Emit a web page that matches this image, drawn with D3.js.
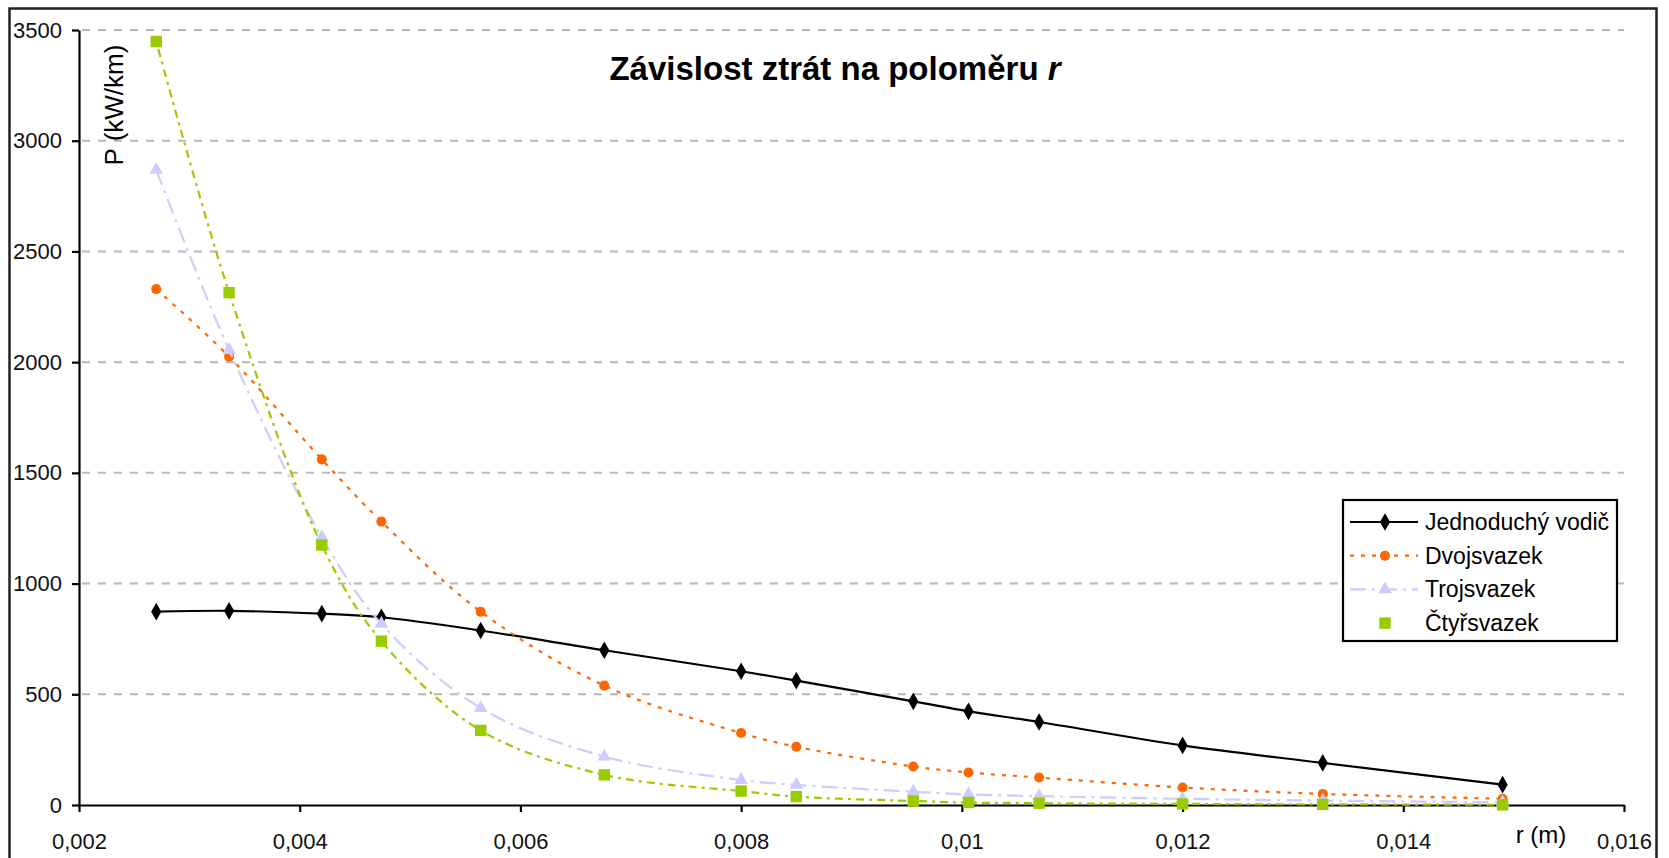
<!DOCTYPE html>
<html>
<head>
<meta charset="utf-8">
<script src="https://cdn.jsdelivr.net/npm/d3@7"></script>
<style>
  body { margin: 0; background: #fff; }
  svg { display: block; font-family: "Liberation Sans", Arial, sans-serif; }
</style>
</head>
<body>
<div id="chart"></div>
<script>
// polomer vodice r (m)
var radius = [0.0027, 0.00336, 0.0042, 0.00474, 0.00564, 0.00676, 0.008, 0.0085, 0.00956, 0.01006, 0.0107, 0.012, 0.01327, 0.0149];

// ztraty P (kW/km)
var jednoduchy = [873, 877, 864, 848, 788, 699, 604, 562, 468, 423, 375, 269, 190, 92];
var dvojsvazek = [2330, 2025, 1561, 1280, 873, 539, 325, 263, 174, 147, 124, 79, 50, 28];
var trojsvazek = [2868, 2055, 1210, 818, 438, 219, 113, 91, 60, 48, 40, 28, 20, 12];
var ctyrsvazek = [3448, 2314, 1174, 740, 337, 136, 63, 38, 18, 11, 8, 5, 3, 1];

var seriesNames = ["Jednoduchý vodič", "Dvojsvazek", "Trojsvazek", "Čtyřsvazek"];
var yTicks = [0, 500, 1000, 1500, 2000, 2500, 3000, 3500];
var xTicks = [0.002, 0.004, 0.006, 0.008, 0.01, 0.012, 0.014, 0.016];

var width = 1669, height = 858;

var x = d3.scaleLinear().domain([0.002, 0.016]).range([79, 1624]);
var y = d3.scaleLinear().domain([0, 3500]).range([805, 30]);

var svg = d3.select("#chart").append("svg")
    .attr("width", width)
    .attr("height", height);

svg.append("rect")
    .attr("width", width).attr("height", height)
    .attr("fill", "#fff");

// ramecek grafu
svg.append("rect")
    .attr("x", 9.5).attr("y", 8.5)
    .attr("width", 1647).attr("height", 880)
    .attr("fill", "none")
    .attr("stroke", "#222")
    .attr("stroke-width", 2.5);

// mrizka
svg.append("g").selectAll("line")
    .data(yTicks.filter(function(d) { return d > 0; }))
  .enter().append("line")
    .attr("x1", 82).attr("x2", 1624)
    .attr("y1", function(d) { return y(d); })
    .attr("y2", function(d) { return y(d); })
    .attr("stroke", "#b8b8b8")
    .attr("stroke-width", 2)
    .attr("stroke-dasharray", "8,8");

// osy
var fmtX = function(d) { return String(+d.toFixed(3)).replace(".", ","); };

var gx = svg.append("g")
    .attr("transform", "translate(0," + y(0) + ")")
    .call(d3.axisBottom(x).tickValues(xTicks).tickFormat(fmtX).tickSize(7).tickSizeOuter(0));
gx.selectAll("text")
    .attr("y", 28)
    .attr("fill", "#111")
    .style("font-size", "22px");

var gy = svg.append("g")
    .attr("transform", "translate(" + x(0.002) + ",0)")
    .call(d3.axisLeft(y).tickValues(yTicks).tickFormat(d3.format("d")).tickSize(7).tickSizeOuter(0));
gy.selectAll("text")
    .attr("x", -17)
    .attr("fill", "#111")
    .style("font-size", "22px");

svg.selectAll(".domain, .tick line")
    .attr("stroke", "#000")
    .attr("stroke-width", 2.2);

// titulek
var title = svg.append("text")
    .attr("x", 835).attr("y", 80)
    .attr("text-anchor", "middle")
    .style("font-size", "33px")
    .style("font-weight", "bold")
    .attr("fill", "#000");
title.append("tspan").text("Závislost ztrát na poloměru ");
title.append("tspan").style("font-style", "italic").text("r");

svg.append("text")
    .attr("transform", "translate(123,105) rotate(-90)")
    .attr("text-anchor", "middle")
    .style("font-size", "26px")
    .attr("fill", "#000")
    .text("P (kW/km)");

svg.append("text")
    .attr("x", 1541).attr("y", 843)
    .attr("text-anchor", "middle")
    .style("font-size", "24px")
    .attr("fill", "#000")
    .text("r (m)");

// serie
var series = [
  { name: seriesNames[0], values: jednoduchy, color: "#000000", dash: null, marker: d3.symbolDiamond, size: 90 },
  { name: seriesNames[1], values: dvojsvazek, color: "#ff6600", dash: "4,7", marker: d3.symbolCircle, size: 80 },
  { name: seriesNames[2], values: trojsvazek, color: "#ccccff", dash: "16,6,3,6", marker: d3.symbolTriangle, size: 80 },
  { name: seriesNames[3], values: ctyrsvazek, color: "#99cc00", dash: "3,5,8,5", marker: d3.symbolSquare, size: 130 }
];

var line = d3.line()
    .x(function(d) { return x(d[0]); })
    .y(function(d) { return y(d[1]); })
    .curve(d3.curveCatmullRom.alpha(0.5));

series.forEach(function(s) {
  var pts = radius.map(function(r, i) { return [r, s.values[i]]; });
  var g = svg.append("g");
  g.append("path")
      .attr("d", line(pts))
      .attr("fill", "none")
      .attr("stroke", s.color)
      .attr("stroke-width", 2.2)
      .attr("stroke-dasharray", s.dash);
  g.selectAll("path.pt")
      .data(pts)
    .enter().append("path")
      .attr("class", "pt")
      .attr("d", d3.symbol().type(s.marker).size(s.size))
      .attr("transform", function(d) { return "translate(" + x(d[0]) + "," + y(d[1]) + ")"; })
      .attr("fill", s.color);
});

// legenda
var legend = svg.append("g").attr("transform", "translate(1343,500)");
legend.append("rect")
    .attr("width", 274).attr("height", 141)
    .attr("fill", "#fff")
    .attr("stroke", "#000")
    .attr("stroke-width", 2.2);

var item = legend.selectAll("g.item")
    .data(series)
  .enter().append("g")
    .attr("class", "item")
    .attr("transform", function(d, i) { return "translate(0," + (22 + i * 33.7) + ")"; });

item.filter(function(d, i) { return i < 3; }).append("line")
    .attr("x1", 7).attr("x2", 75)
    .attr("stroke", function(d) { return d.color; })
    .attr("stroke-width", 2.2)
    .attr("stroke-dasharray", function(d) { return d.dash; });

item.append("path")
    .attr("d", function(d) { return d3.symbol().type(d.marker).size(d.size)(); })
    .attr("transform", "translate(42,0)")
    .attr("fill", function(d) { return d.color; });

item.append("text")
    .attr("x", 82)
    .attr("dy", "0.35em")
    .style("font-size", "23px")
    .attr("fill", "#000")
    .text(function(d) { return d.name; });
</script>
</body>
</html>
